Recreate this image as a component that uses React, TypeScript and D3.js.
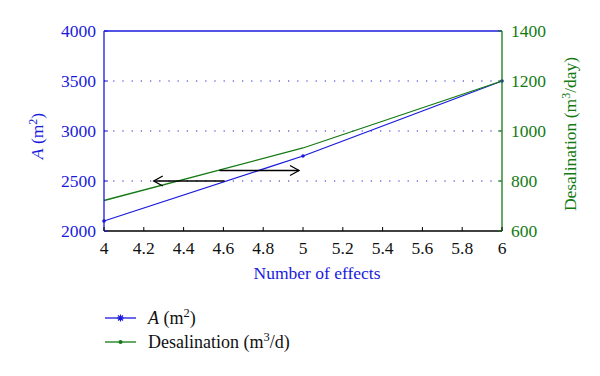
import React from "react";
import * as d3 from "d3";

const effects = [4, 5, 6];
const areaValues = [2100, 2750, 3500];
const desalValues = [722, 932, 1200];
const xTicks = [4, 4.2, 4.4, 4.6, 4.8, 5, 5.2, 5.4, 5.6, 5.8, 6];
const leftTicks = [2000, 2500, 3000, 3500, 4000];
const rightTicks = [600, 800, 1000, 1200, 1400];
const gridValues = [2500, 3000, 3500];
const arrowLeft = { from: 4.605, to: 4.25, y: 2500 };
const arrowRight = { from: 4.58, to: 4.98, y: 2605 };

const BLUE = "#1a1adc";
const GREEN = "#137a13";
const FONT = "'Liberation Serif', 'Times New Roman', Tinos, 'Noto Serif', 'DejaVu Serif', serif";

export default function App() {
  const left = 104, right = 502, top = 31, bottom = 231;
  const x = d3.scaleLinear().domain([4, 6]).range([left, right]);
  const yL = d3.scaleLinear().domain([2000, 4000]).range([bottom, top]);
  const yR = d3.scaleLinear().domain([600, 1400]).range([bottom, top]);
  const lineA = d3.line<number>().x((_, i) => x(effects[i])).y((d) => yL(d));
  const lineD = d3.line<number>().x((_, i) => x(effects[i])).y((d) => yR(d));
  const ts = { fontFamily: FONT } as React.CSSProperties;

  const arrow = (a: { from: number; to: number; y: number }, key: string) => {
    const x1 = x(a.from), x2 = x(a.to), yy = yL(a.y);
    const dir = x2 > x1 ? -1 : 1;
    return (
      <g key={key} stroke="#000" strokeWidth={1.3} fill="none">
        <line x1={x1} y1={yy} x2={x2} y2={yy} />
        <path d={`M${x2 + dir * 9},${yy - 5} L${x2},${yy} L${x2 + dir * 9},${yy + 5}`} />
      </g>
    );
  };

  const star = (cx: number, cy: number) => {
    const r = 3.5;
    const segs = [0, 45, 90, 135].map((a) => {
      const rad = (a * Math.PI) / 180;
      return `M${cx - r * Math.cos(rad)},${cy - r * Math.sin(rad)} L${cx + r * Math.cos(rad)},${cy + r * Math.sin(rad)}`;
    });
    return <path d={segs.join(" ")} stroke={BLUE} strokeWidth={1.2} />;
  };

  return (
    <svg width={600} height={376} style={{ position: "absolute", left: 0, top: 0, background: "#fff", fontFamily: FONT }}>
      {gridValues.map((v) => (
        <line key={v} x1={left} x2={right} y1={yL(v)} y2={yL(v)} stroke={BLUE} strokeWidth={1.2} strokeDasharray="1.2 8" />
      ))}
      <path d={lineA(areaValues) || ""} fill="none" stroke={BLUE} strokeWidth={1.3} />
      <path d={lineD(desalValues) || ""} fill="none" stroke={GREEN} strokeWidth={1.3} />
      {areaValues.map((v, i) => (
        <circle key={i} cx={x(effects[i])} cy={yL(v)} r={1.8} fill={BLUE} />
      ))}
      {arrow(arrowLeft, "al")}
      {arrow(arrowRight, "ar")}
      <line x1={left} x2={right} y1={top} y2={top} stroke={BLUE} strokeWidth={1.3} />
      <line x1={left} x2={left} y1={top} y2={bottom} stroke={BLUE} strokeWidth={1.3} />
      <line x1={right} x2={right} y1={top} y2={bottom} stroke={GREEN} strokeWidth={1.3} />
      <line x1={left} x2={right} y1={bottom} y2={bottom} stroke="#000" strokeWidth={1.3} />
      {xTicks.map((t) => (
        <g key={t}>
          <line x1={x(t)} x2={x(t)} y1={bottom} y2={bottom - 4} stroke="#000" strokeWidth={1} />
          <text style={ts} x={x(t)} y={bottom + 23} textAnchor="middle" fontSize={17.5} fill="#111">{t}</text>
        </g>
      ))}
      {leftTicks.map((t) => (
        <g key={t}>
          <line x1={left} x2={left + 4} y1={yL(t)} y2={yL(t)} stroke={BLUE} />
          <text style={ts} x={left - 8} y={yL(t) + 6} textAnchor="end" fontSize={17.5} fill={BLUE}>{t}</text>
        </g>
      ))}
      {rightTicks.map((t) => (
        <g key={t}>
          <line x1={right} x2={right - 4} y1={yR(t)} y2={yR(t)} stroke={GREEN} />
          <text style={ts} x={right + 9} y={yR(t) + 6} textAnchor="start" fontSize={17.5} fill={GREEN}>{t}</text>
        </g>
      ))}
      <text style={ts} x={317} y={279} textAnchor="middle" fontSize={17.5} fill={BLUE}>Number of effects</text>
      <text style={ts} transform={`translate(43,136) rotate(-90)`} textAnchor="middle" fontSize={17.5} fill={BLUE}>
        <tspan fontStyle="italic">A</tspan> (m<tspan dy={-6} fontSize={12}>2</tspan><tspan dy={6}>)</tspan>
      </text>
      <text style={ts} transform={`translate(576,134) rotate(-90)`} textAnchor="middle" fontSize={17.5} fill={GREEN}>
        Desalination (m<tspan dy={-6} fontSize={12}>3</tspan><tspan dy={6}>/day)</tspan>
      </text>
      <line x1={105} x2={136} y1={318} y2={318} stroke={BLUE} strokeWidth={1.3} />
      {star(120.5, 318)}
      <text style={ts} x={148} y={324} fontSize={18} fill="#111">
        <tspan fontStyle="italic">A</tspan> (m<tspan dy={-7} fontSize={12.5}>2</tspan><tspan dy={7}>)</tspan>
      </text>
      <line x1={105} x2={136} y1={342} y2={342} stroke={GREEN} strokeWidth={1.3} />
      <circle cx={120.5} cy={342} r={2} fill={GREEN} />
      <text style={ts} x={148} y={348} fontSize={18} fill="#111">
        Desalination (m<tspan dy={-7} fontSize={12.5}>3</tspan><tspan dy={7}>/d)</tspan>
      </text>
    </svg>
  );
}
